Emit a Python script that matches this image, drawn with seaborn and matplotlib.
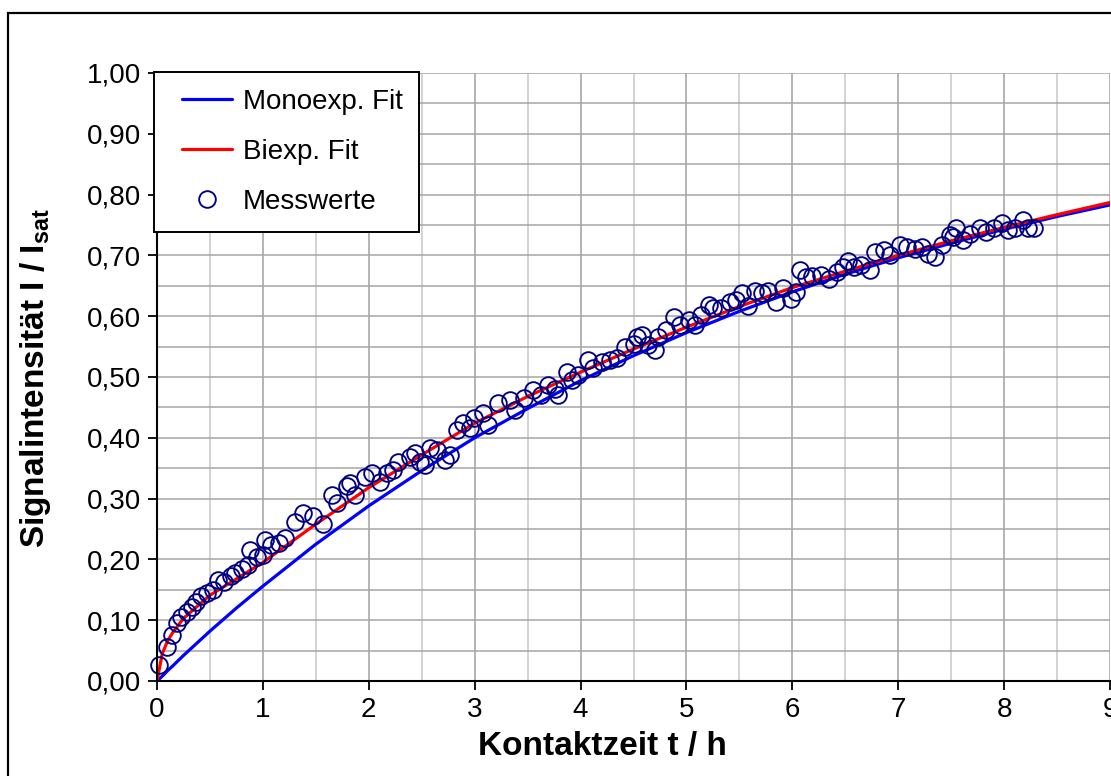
import matplotlib
matplotlib.use("Agg")
import matplotlib.pyplot as plt
import seaborn as sns
import numpy as np
import pandas as pd
from matplotlib.lines import Line2D
from matplotlib.patches import Rectangle
from matplotlib.legend_handler import HandlerLine2D
from matplotlib.ticker import MultipleLocator, FuncFormatter

# Fit-Kurven
fit_t = [0.0, 0.05, 0.1, 0.15, 0.25, 0.5, 0.75, 1.0, 1.5, 2.0, 2.5, 3.0, 3.5, 4.0,
         4.5, 5.0, 5.5, 6.0, 6.5, 7.0, 7.5, 8.0, 8.5, 9.0]
mono_fit = [0.0, 0.008, 0.017, 0.025, 0.042, 0.082, 0.120, 0.156, 0.225, 0.288, 0.346,
            0.400, 0.448, 0.494, 0.535, 0.573, 0.608, 0.640, 0.669, 0.696, 0.720,
            0.743, 0.764, 0.783]
biexp_fit = [0.0, 0.045, 0.066, 0.080, 0.103, 0.141, 0.168, 0.195, 0.258, 0.318, 0.372,
             0.424, 0.468, 0.508, 0.546, 0.582, 0.616, 0.647, 0.674, 0.700, 0.724,
             0.746, 0.767, 0.787]

# Messwerte
mess_t = [0.02, 0.09, 0.14, 0.19, 0.23, 0.28, 0.33, 0.37, 0.42, 0.47, 0.53, 0.58, 0.63,
          0.70, 0.74, 0.80, 0.86, 0.88, 0.94, 1.00, 1.02, 1.08, 1.15, 1.21, 1.30, 1.38,
          1.47, 1.57, 1.65, 1.70, 1.79, 1.82, 1.87, 1.96, 2.03, 2.11, 2.17, 2.23, 2.28,
          2.39, 2.44, 2.48, 2.53, 2.58, 2.64, 2.72, 2.77, 2.83, 2.89, 2.96, 2.99, 3.08,
          3.13, 3.22, 3.33, 3.38, 3.47, 3.55, 3.63, 3.69, 3.76, 3.79, 3.87, 3.92, 3.98,
          4.07, 4.12, 4.20, 4.28, 4.34, 4.42, 4.50, 4.53, 4.58, 4.64, 4.70, 4.73, 4.81,
          4.88, 4.94, 5.02, 5.08, 5.14, 5.21, 5.25, 5.33, 5.41, 5.47, 5.52, 5.58, 5.65,
          5.71, 5.77, 5.85, 5.91, 5.99, 6.03, 6.07, 6.13, 6.19, 6.27, 6.35, 6.42, 6.48,
          6.53, 6.58, 6.65, 6.73, 6.78, 6.87, 6.92, 7.02, 7.08, 7.16, 7.22, 7.28, 7.35,
          7.41, 7.49, 7.52, 7.55, 7.61, 7.68, 7.77, 7.83, 7.90, 7.98, 8.04, 8.10, 8.18,
          8.23, 8.28]
mess_val = [0.026, 0.056, 0.076, 0.095, 0.106, 0.114, 0.122, 0.130, 0.139, 0.144, 0.150,
            0.166, 0.163, 0.172, 0.177, 0.185, 0.191, 0.215, 0.204, 0.207, 0.232, 0.224,
            0.227, 0.235, 0.262, 0.276, 0.272, 0.259, 0.306, 0.292, 0.320, 0.325, 0.306,
            0.336, 0.342, 0.328, 0.342, 0.347, 0.361, 0.369, 0.375, 0.361, 0.355, 0.383,
            0.380, 0.363, 0.372, 0.413, 0.424, 0.416, 0.432, 0.440, 0.421, 0.457, 0.462,
            0.446, 0.465, 0.479, 0.470, 0.487, 0.481, 0.470, 0.509, 0.495, 0.503, 0.528,
            0.514, 0.525, 0.528, 0.531, 0.550, 0.555, 0.566, 0.569, 0.553, 0.544, 0.566,
            0.577, 0.599, 0.586, 0.594, 0.586, 0.602, 0.618, 0.613, 0.613, 0.624, 0.627,
            0.638, 0.616, 0.641, 0.638, 0.641, 0.624, 0.646, 0.629, 0.640, 0.676, 0.665,
            0.666, 0.668, 0.662, 0.673, 0.681, 0.690, 0.681, 0.684, 0.676, 0.706, 0.709,
            0.701, 0.717, 0.714, 0.711, 0.714, 0.703, 0.698, 0.717, 0.734, 0.731, 0.745,
            0.725, 0.736, 0.745, 0.739, 0.745, 0.753, 0.742, 0.745, 0.758, 0.745, 0.745]


class ShiftedLine(HandlerLine2D):
    # Legendensymbol etwas nach rechts einruecken
    def __init__(self, shift, **kw):
        super().__init__(**kw)
        self.shift = shift

    def create_artists(self, legend, orig_handle, xdescent, ydescent, width, height,
                       fontsize, trans):
        return super().create_artists(legend, orig_handle, xdescent - self.shift,
                                      ydescent, width - self.shift, height, fontsize, trans)


sns.set_style("white")
plt.rcParams['font.family'] = ['Liberation Sans', 'DejaVu Sans']
plt.rcParams['mathtext.fontset'] = 'custom'
plt.rcParams['mathtext.bf'] = 'Liberation Sans:bold'
plt.rcParams['mathtext.rm'] = 'Liberation Sans'
plt.rcParams['text.color'] = 'black'
plt.rcParams['xtick.color'] = 'black'
plt.rcParams['ytick.color'] = 'black'

W, H = 1111, 776
fig = plt.figure(figsize=(W / 100, H / 100), dpi=100)
ax = fig.add_axes([157 / W, 95 / H, 953 / W, 608 / H])

# Rahmen um das Diagramm
fig.patches.append(Rectangle((8 / W, -0.1), 1.2, 0.1 + 1 - 13 / H,
                             transform=fig.transFigure, fill=False,
                             edgecolor='black', linewidth=1.6, clip_on=False))

fits = pd.DataFrame({'t': fit_t, 'mono': mono_fit, 'bi': biexp_fit})
mess = pd.DataFrame({'t': mess_t, 'wert': mess_val})

sns.lineplot(data=fits, x='t', y='mono', color='#0000ff', linewidth=2.3, ax=ax, zorder=3)
sns.lineplot(data=fits, x='t', y='bi', color='#ff0000', linewidth=2.3, ax=ax, zorder=4)
ax.plot(mess['t'], mess['wert'], linestyle='none', marker='o', markersize=12,
        markerfacecolor='none', markeredgecolor='#000080', markeredgewidth=1.35,
        zorder=5, clip_on=False)

ax.set_xlim(0, 9)
ax.set_ylim(0, 1)
ax.xaxis.set_major_locator(MultipleLocator(1))
ax.xaxis.set_minor_locator(MultipleLocator(0.5))
ax.yaxis.set_major_locator(MultipleLocator(0.1))
ax.yaxis.set_minor_locator(MultipleLocator(0.05))
ax.yaxis.set_major_formatter(FuncFormatter(lambda v, p: f"{v:.2f}".replace('.', ',')))

ax.grid(which='major', axis='x', color='#a0a0a0', linewidth=1.1, zorder=0)
ax.grid(which='minor', axis='x', color='#c8c8c8', linewidth=1.1, zorder=0)
ax.grid(which='both', axis='y', color='#a6a6a6', linewidth=1.1, zorder=0)
ax.set_axisbelow(True)

for s in ['top', 'right']:
    ax.spines[s].set_visible(False)
for s in ['left', 'bottom']:
    ax.spines[s].set_color('black')
    ax.spines[s].set_linewidth(1.5)
    ax.spines[s].set_zorder(6)

ax.tick_params(which='major', direction='out', length=6.5, width=1.3, color='black',
               labelcolor='black', labelsize=20, pad=5, left=True, bottom=True)
ax.tick_params(which='minor', length=0)

ax.set_xlabel('')
ax.set_ylabel('')
fig.text(602 / W, 1 - 747 / H, 'Kontaktzeit t / h', fontsize=24, fontweight='bold',
         ha='center', va='center', color='black')
fig.text(36 / W, 1 - 378 / H, r'Signalintensität I / I$_\mathbf{sat}$', fontsize=24,
         fontweight='bold', rotation=90, ha='center', va='center', color='black')

handles = [
    Line2D([], [], color='#0000ff', linewidth=2.3),
    Line2D([], [], color='#ff0000', linewidth=2.3),
    Line2D([], [], linestyle='none', marker='o', markersize=12, markerfacecolor='none',
           markeredgecolor='#000080', markeredgewidth=1.35),
]
shift_pt = 8
leg = ax.legend(handles, ['Monoexp. Fit', 'Biexp. Fit', 'Messwerte'],
                loc='upper left', bbox_to_anchor=(154 / W, 1 - 72 / H),
                bbox_transform=fig.transFigure, fontsize=20, frameon=True,
                fancybox=False, framealpha=1, edgecolor='black', borderpad=0.6,
                labelspacing=0.87, handlelength=(36 + shift_pt) / 20, handletextpad=0.4,
                borderaxespad=0,
                handler_map={h: ShiftedLine(shift_pt) for h in handles})
leg.get_frame().set_linewidth(1.4)
leg.set_zorder(10)
for txt in leg.get_texts():
    txt.set_color('black')

fig.savefig('out.png', dpi=100)
